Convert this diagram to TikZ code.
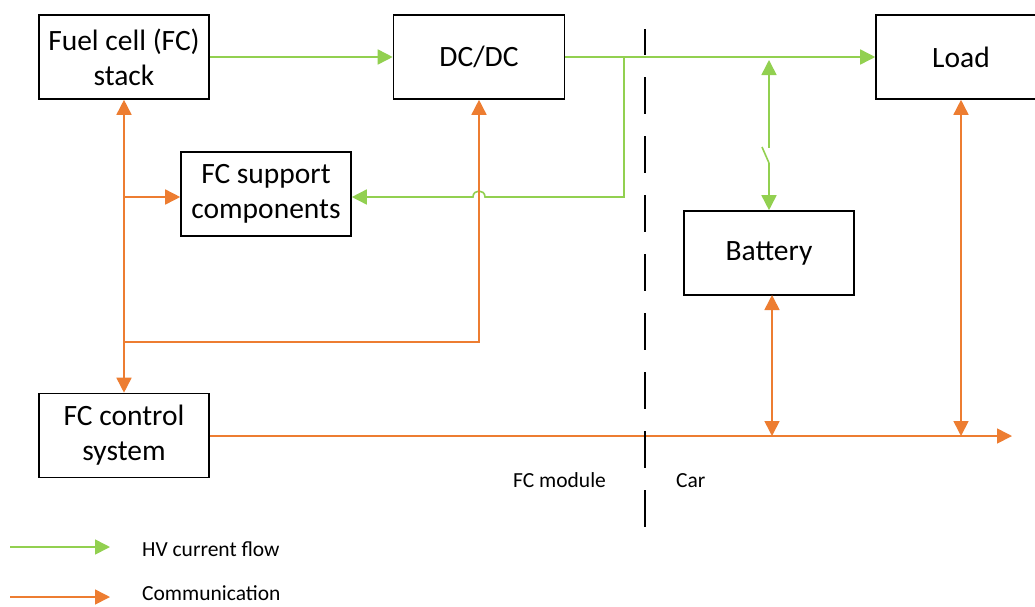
\documentclass[tikz,border=0pt]{standalone}
\usepackage{fontspec}
\setmainfont{Carlito}
\usetikzlibrary{arrows.meta}
\definecolor{hvgreen}{HTML}{92D050}
\definecolor{comorange}{HTML}{ED7D31}
\tikzset{
  box/.style={draw=black, line width=1.6pt, minimum width=170pt, minimum height=84pt,
    inner sep=0pt, align=center, font=\fontsize{29.5}{35}\selectfont},
  hv/.style={draw=hvgreen, line width=1.6pt},
  com/.style={draw=comorange, line width=1.6pt},
  tip/.style={-{Triangle[length=15pt,width=15pt]}},
  bitip/.style={{Triangle[length=15pt,width=15pt]}-{Triangle[length=15pt,width=15pt]}},
  rtip/.style={{Triangle[length=15pt,width=15pt]}-},
  small/.style={font=\fontsize{21.5}{24}\selectfont, inner sep=0pt},
}
\begin{document}
\begin{tikzpicture}[x=1pt,y=-1pt]
\clip (0,0) rectangle (1035,606);
\fill[white] (0,0) rectangle (1035,606);

% boxes
\node[box] (fc) at (124,57) {Fuel cell (FC)\\stack};
\node[box, minimum width=171pt] (dcdc) at (479,57) {DC/DC};
\node[box] (load) at (961,57) {Load};
\node[box] (sup) at (266,194) {FC support\\components};
\node[box] (bat) at (769,253) {Battery};
\node[box] (ctrl) at (124,435.5) {FC control\\system};

% helper coordinates
\coordinate (gsplit) at (624,57);
\coordinate (gcorner) at (624,197);
\coordinate (hopR) at (485,197);
\coordinate (hopL) at (473,197);
\coordinate (supIn) at (sup.east |- gcorner);
\coordinate (swTop) at (769,60);
\coordinate (swA) at (769,148);
\coordinate (swB) at (762,147);
\coordinate (swC) at (769,163);
\coordinate (obranch) at (124,197);
\coordinate (ocorner1) at (124,342);
\coordinate (ocorner2) at (479,342);
\coordinate (busEnd) at (1012,436);
\coordinate (batBot) at (772,295);
\coordinate (batBus) at (772,436);
\coordinate (loadBus) at (961,436);

% HV current flow (green)
\draw[hv, tip] (fc.east) -- (dcdc.west);
\draw[hv, tip] (dcdc.east) -- (load.west);
\draw[hv, tip] (gsplit) -- (gcorner) -- (hopR)
   .. controls (485,189) and (473,189) .. (hopL) -- (supIn);
\draw[hv, rtip] (swTop) -- (swA);
\draw[hv] (swB) -- (swC);
\draw[hv, tip] (swC) -- (bat.north);

% Communication (orange)
\draw[com, bitip] (fc.south) -- (ctrl.north);
\draw[com, tip] (obranch) -- (sup.west |- obranch);
\draw[com, tip] (ocorner1) -- (ocorner2) -- (dcdc.south);
\draw[com, tip] (ctrl.east |- busEnd) -- (busEnd);
\draw[com, bitip] (batBot) -- (batBus);
\draw[com, bitip] (load.south) -- (loadBus);

% boundary
\coordinate (dashTop) at (645,29);
\coordinate (dashBot) at (645,528);
\draw[black, line width=2.4pt, dash pattern=on 26pt off 22pt on 37pt off 22pt on 37pt off 22pt on 37pt off 22pt on 37pt off 22pt on 37pt off 22pt on 37pt off 22pt on 37pt off 22pt on 37pt off 22pt]
  (dashTop) -- (dashBot);

\node[small, anchor=base west] (fcm) at (513,487) {FC module};
\node[small, anchor=base west] (car) at (676,487) {Car};

% legend
\coordinate (lg1a) at (10,547);
\coordinate (lg1b) at (110,547);
\coordinate (lg2a) at (10,597);
\coordinate (lg2b) at (110,597);
\draw[hv, tip] (lg1a) -- (lg1b);
\draw[com, tip] (lg2a) -- (lg2b);
\node[small, anchor=base west] (lhv) at (142,556) {HV current flow};
\node[small, anchor=base west] (lcom) at (142,600.5) {Communication};
\end{tikzpicture}
\end{document}
